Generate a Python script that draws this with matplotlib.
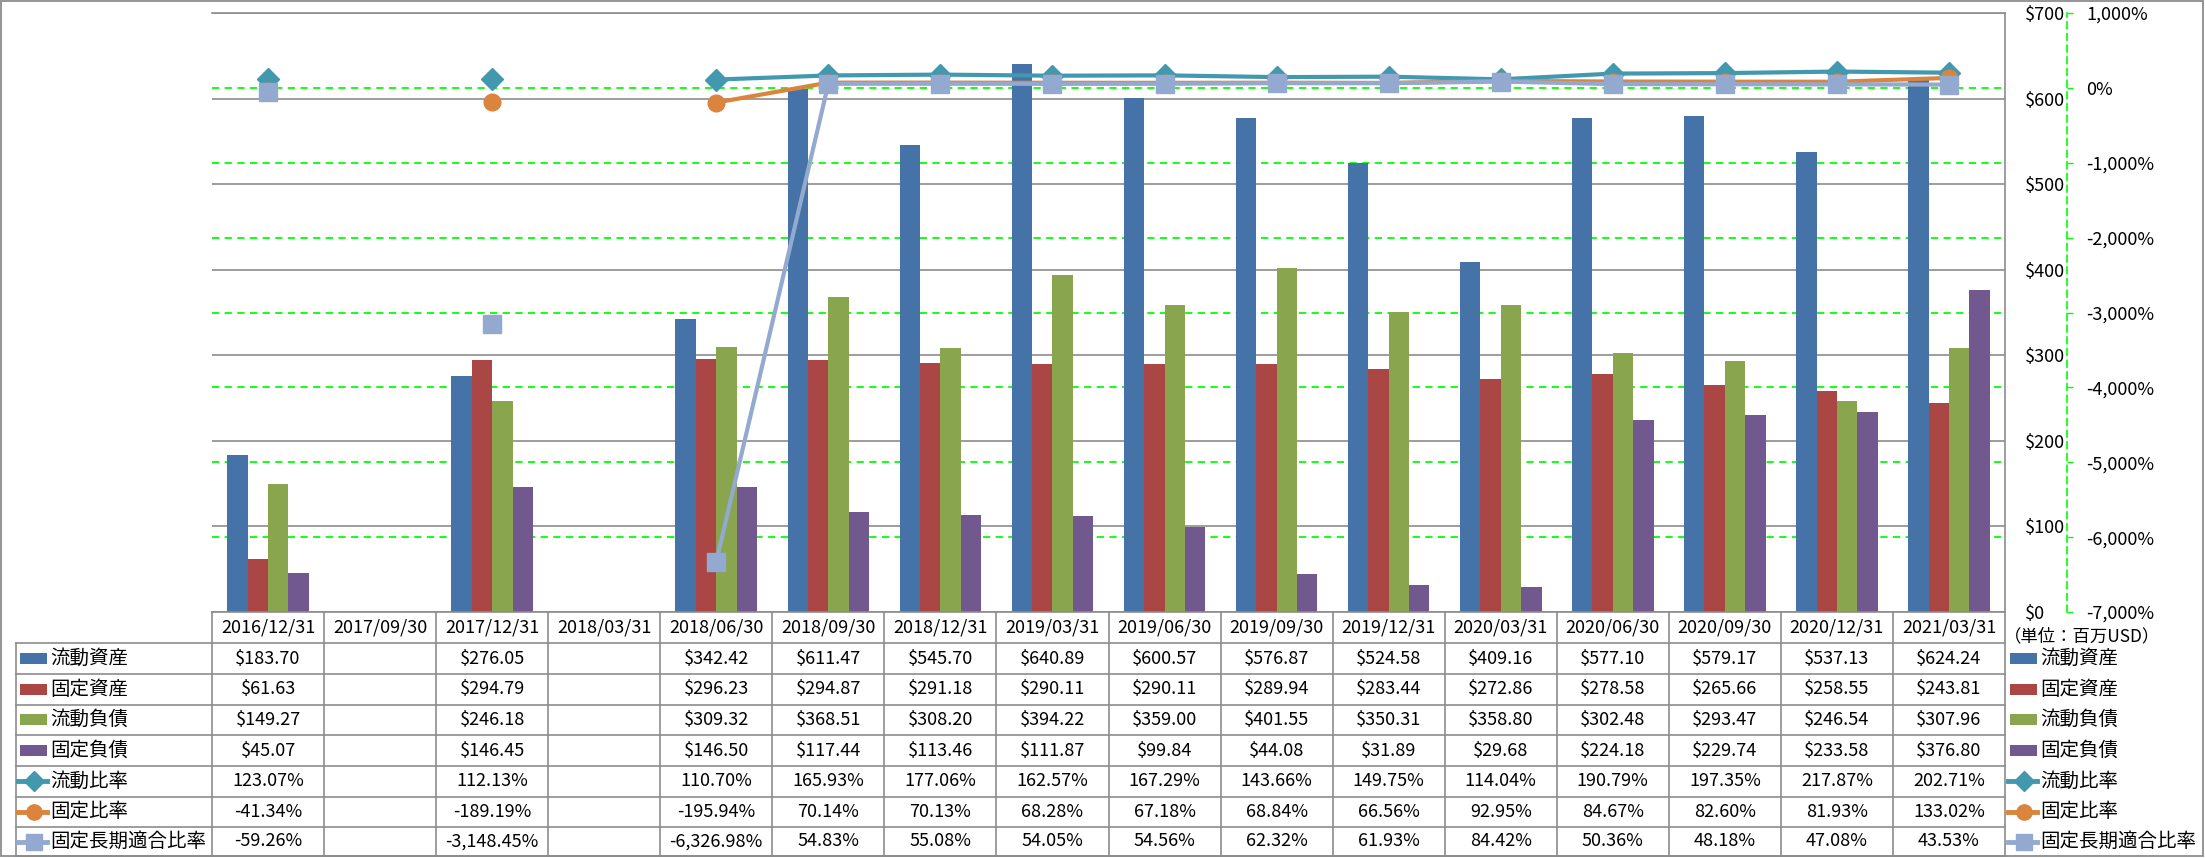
import numpy as np
import matplotlib
matplotlib.use("Agg")
import matplotlib.pyplot as plt
from matplotlib.transforms import blended_transform_factory
from matplotlib.lines import Line2D
from matplotlib.patches import Rectangle

plt.rcParams['font.family'] = ['Noto Sans CJK JP', 'DejaVu Sans']

nan = np.nan
dates = ['2016/12/31', '2017/09/30', '2017/12/31', '2018/03/31', '2018/06/30', '2018/09/30',
         '2018/12/31', '2019/03/31', '2019/06/30', '2019/09/30', '2019/12/31', '2020/03/31',
         '2020/06/30', '2020/09/30', '2020/12/31', '2021/03/31']

# bars (million USD)
current_assets = [183.70, nan, 276.05, nan, 342.42, 611.47, 545.70, 640.89, 600.57, 576.87,
                  524.58, 409.16, 577.10, 579.17, 537.13, 624.24]
fixed_assets = [61.63, nan, 294.79, nan, 296.23, 294.87, 291.18, 290.11, 290.11, 289.94,
                283.44, 272.86, 278.58, 265.66, 258.55, 243.81]
current_liab = [149.27, nan, 246.18, nan, 309.32, 368.51, 308.20, 394.22, 359.00, 401.55,
                350.31, 358.80, 302.48, 293.47, 246.54, 307.96]
fixed_liab = [45.07, nan, 146.45, nan, 146.50, 117.44, 113.46, 111.87, 99.84, 44.08,
              31.89, 29.68, 224.18, 229.74, 233.58, 376.80]

# ratios (%)
current_ratio = [123.07, nan, 112.13, nan, 110.70, 165.93, 177.06, 162.57, 167.29, 143.66,
                 149.75, 114.04, 190.79, 197.35, 217.87, 202.71]
fixed_ratio = [-41.34, nan, -189.19, nan, -195.94, 70.14, 70.13, 68.28, 67.18, 68.84,
               66.56, 92.95, 84.67, 82.60, 81.93, 133.02]
fixed_lt_ratio = [-59.26, nan, -3148.45, nan, -6326.98, 54.83, 55.08, 54.05, 54.56, 62.32,
                  61.93, 84.42, 50.36, 48.18, 47.08, 43.53]

bar_names = ['流動資産', '固定資産', '流動負債', '固定負債']
line_names = ['流動比率', '固定比率', '固定長期適合比率']
bar_colors = ['#4572A7', '#AA4643', '#89A54E', '#71588F']
line_colors = ['#4198AF', '#DB843D', '#93A9CF']
markers = ['D', 'o', 's']
msizes = [11, 12, 13]

W, H = 2205, 858
def fx(px):
    return px / W
def fy(py):
    return 1 - py / H

fig = plt.figure(figsize=(W / 100, H / 100), dpi=100)
ax = fig.add_axes([fx(212), fy(612), fx(2005) - fx(212), fy(13) - fy(612)])
ax2 = ax.twinx()

x = np.arange(len(dates))
bw = 0.182
bar_series = [current_assets, fixed_assets, current_liab, fixed_liab]
for i, (vals, c) in enumerate(zip(bar_series, bar_colors)):
    ax.bar(x + (i - 1.5) * bw, vals, width=bw, color=c, zorder=3)

ax.set_xlim(-0.5, len(dates) - 0.5)
ax.set_ylim(0, 700)
ax.set_yticks(range(0, 701, 100))
ax.yaxis.tick_right()
ax.yaxis.grid(True, color='#8c8c8c', lw=1.2, zorder=0)
ax.set_axisbelow(True)
ax.set_yticklabels([f'${v}' for v in range(0, 701, 100)])
ax.tick_params(axis='y', length=0, pad=14, labelsize=13)
ax.set_xticks([])
for s in ['left', 'bottom']:
    ax.spines[s].set_visible(False)
for s in ['top', 'right']:
    ax.spines[s].set_color('#8c8c8c')
    ax.spines[s].set_linewidth(1.2)

# secondary axis
lo2, hi2 = -7000, 1000
ax2.set_ylim(lo2, hi2)
pct_ticks = list(range(lo2, hi2 + 1, 1000))
ax2.set_yticks(pct_ticks)
ax2.set_yticklabels([f'{t:,}%' for t in pct_ticks])
for lab, t in zip(ax2.get_yticklabels(), pct_ticks):
    lab.set_color('red' if t < 0 else 'black')
ax2.tick_params(axis='y', length=4, width=1, color='#00ff00', pad=10, labelsize=13)
for s in ['left', 'top', 'bottom']:
    ax2.spines[s].set_visible(False)
ax2.spines['right'].set_position(('outward', 44.6))
ax2.spines['right'].set_color('#00ff00')
ax2.spines['right'].set_linestyle((0, (4, 3)))
ax2.spines['right'].set_linewidth(1.2)

# green dashed gridlines for the % axis, behind the bars
gtrans = blended_transform_factory(ax.transAxes, ax2.transData)
for t in pct_ticks[1:-1]:
    ax.plot([0, 1], [t, t], transform=gtrans, color='#00ff00', lw=1.3,
            ls=(0, (4, 3)), zorder=1)

line_series = [current_ratio, fixed_ratio, fixed_lt_ratio]
for vals, c, m, ms in zip(line_series, line_colors, markers, msizes):
    ax2.plot(x, vals, color=c, lw=3, marker=m, ms=ms, markeredgecolor=c, clip_on=False)

# data table
tt = blended_transform_factory(ax.transData, fig.transFigure)
gc = '#8c8c8c'
row_edges = [612, 643, 674, 704.5, 735, 766, 796.5, 827, 856]
edges = np.arange(len(dates) + 1) - 0.5
fig.add_artist(Line2D([edges[0], edges[-1]], [fy(612)] * 2, transform=tt, color=gc, lw=1.2))
for ry in row_edges[1:]:
    fig.add_artist(Line2D([fx(16), fx(2005)], [fy(ry)] * 2, color=gc, lw=1.2))
for e in edges:
    fig.add_artist(Line2D([e, e], [fy(612), fy(856)], transform=tt, color=gc, lw=1.2))
fig.add_artist(Line2D([fx(16), fx(16)], [fy(643), fy(856)], color=gc, lw=1.2))

centers = [(a + b) / 2 for a, b in zip(row_edges[:-1], row_edges[1:])]
for i, d in enumerate(dates):
    fig.text(i, fy(centers[0]), d, transform=tt, ha='center', va='center', fontsize=13)
rows = []
for vals in bar_series:
    rows.append(['' if np.isnan(v) else f'${v:,.2f}' for v in vals])
for vals in line_series:
    rows.append(['' if np.isnan(v) else f'{v:,.2f}%' for v in vals])
for r, cells in enumerate(rows):
    for i, s in enumerate(cells):
        fig.text(i, fy(centers[r + 1]), s, transform=tt, ha='center', va='center', fontsize=13)

# legend keys (left column and right side)
def legend_key(x0, r, kind, c, m=None, ms=None):
    cy = fy(centers[r + 1])
    if kind == 'bar':
        fig.add_artist(Rectangle((fx(x0), cy - 5.5 / H), 27 / W, 11 / H, color=c, lw=0))
    else:
        fig.add_artist(Line2D([fx(x0 - 2), fx(x0 + 27)], [cy, cy], color=c, lw=3.5))
        fig.add_artist(Line2D([fx(x0 + 13.5)], [cy], color=c, marker=m, ms=ms - 1,
                              markeredgecolor=c))

names = bar_names + line_names
for r, name in enumerate(names):
    for x0 in (20, 2010):
        if r < 4:
            legend_key(x0, r, 'bar', bar_colors[r])
        else:
            legend_key(x0, r, 'line', line_colors[r - 4], markers[r - 4], msizes[r - 4])
    fig.text(fx(50), fy(centers[r + 1]), name, ha='left', va='center', fontsize=14)
    fig.text(fx(2040), fy(centers[r + 1]), name, ha='left', va='center', fontsize=14)

fig.text(fx(2082), fy(636), '（単位：百万USD）', ha='center', va='center', fontsize=12.5)

# outer border
fig.add_artist(Rectangle((fx(1), fy(856)), fx(2203) - fx(1), fy(1) - fy(856),
                         fill=False, edgecolor=gc, lw=1.3))

fig.savefig('out.png', dpi=100)
